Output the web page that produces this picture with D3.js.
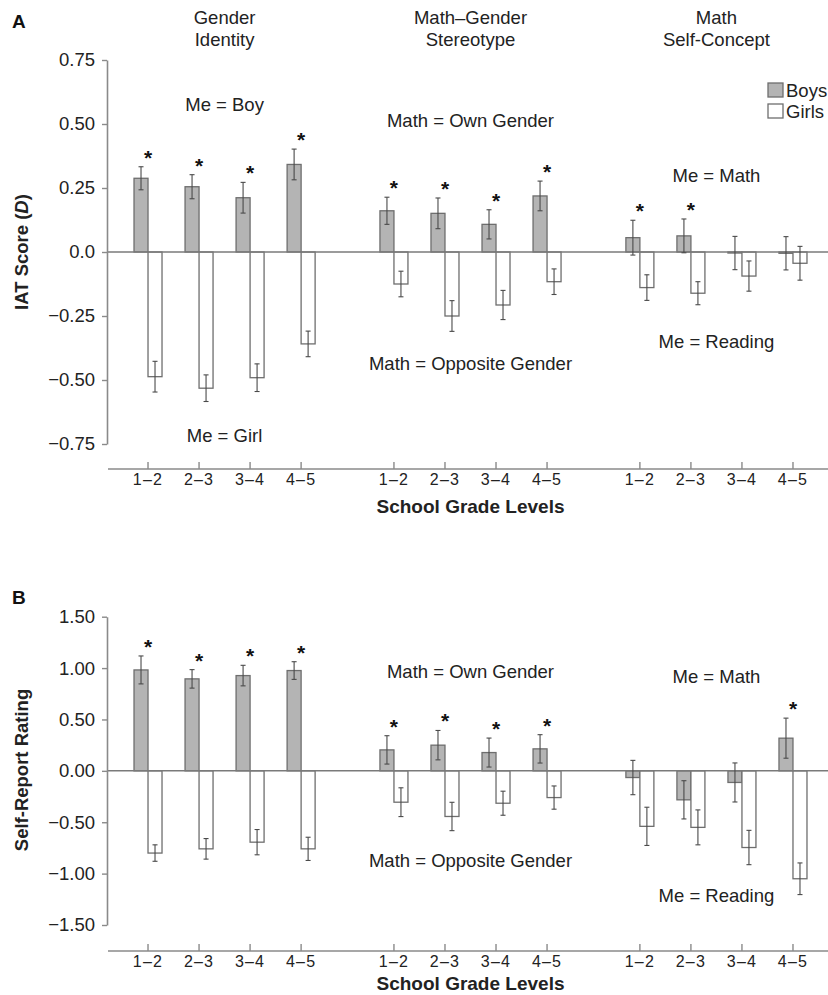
<!DOCTYPE html>
<html>
<head>
<meta charset="utf-8">
<script src="https://cdn.jsdelivr.net/npm/d3@7"></script>
<style>
  body { margin: 0; background: #fff; }
  svg { display: block; font-family: "Liberation Sans", Arial, Helvetica, sans-serif; }
</style>
</head>
<body>
<div id="chart"></div>
<script>
// ---- data ----
const groups = ['Gender Identity', 'Math–Gender Stereotype', 'Math Self-Concept'];
const groupTitles = [['Gender', 'Identity'], ['Math–Gender', 'Stereotype'], ['Math', 'Self-Concept']];
const grades = ['1–2', '2–3', '3–4', '4–5'];

// Panel A: IAT score (D)
const iatBoys     = [[0.288, 0.255, 0.212, 0.342], [0.161, 0.151, 0.108, 0.219], [0.056, 0.063, -0.004, -0.005]];
const iatBoysErr  = [[0.045, 0.047, 0.060, 0.060], [0.053, 0.060, 0.057, 0.058], [0.068, 0.066, 0.065, 0.065]];
const iatGirls    = [[-0.487, -0.532, -0.491, -0.359], [-0.125, -0.250, -0.207, -0.116], [-0.139, -0.161, -0.094, -0.044]];
const iatGirlsErr = [[0.060, 0.052, 0.054, 0.050], [0.050, 0.060, 0.057, 0.050], [0.050, 0.045, 0.059, 0.066]];
const iatStars    = [[1, 1, 1, 1], [1, 1, 1, 1], [1, 1, 0, 0]];
const iatTicks    = [0.75, 0.5, 0.25, 0, -0.25, -0.5, -0.75];

// Panel B: self-report rating
const srBoys      = [[0.982, 0.895, 0.927, 0.976], [0.204, 0.250, 0.178, 0.214], [-0.065, -0.282, -0.113, 0.318]];
const srBoysErr   = [[0.136, 0.090, 0.100, 0.086], [0.138, 0.143, 0.141, 0.138], [0.167, 0.186, 0.190, 0.195]];
const srGirls     = [[-0.800, -0.759, -0.694, -0.759], [-0.305, -0.444, -0.315, -0.260], [-0.540, -0.550, -0.746, -1.050]];
const srGirlsErr  = [[0.080, 0.100, 0.123, 0.113], [0.140, 0.138, 0.117, 0.113], [0.186, 0.170, 0.167, 0.154]];
const srStars     = [[1, 1, 1, 1], [1, 1, 1, 1], [0, 0, 0, 1]];
const srTicks     = [1.5, 1, 0.5, 0, -0.5, -1, -1.5];

const width = 828, height = 995;
const boyFill = '#b4b4b4', barStroke = '#6e6e6e', axisColor = '#8a8a8a', errColor = '#4a4a4a';
const textSize = '18.5px';
const dash = s => s.replace('-', '–');

const svg = d3.select('#chart').append('svg')
  .attr('width', width)
  .attr('height', height);

// shared x scales
const xGroup = d3.scaleBand().domain(groups).range([122.5, 818.5]).paddingInner(0.17).paddingOuter(0);
const xGrade = d3.scaleBand().domain(grades).range([0, xGroup.bandwidth()]);
const tickX = (g, gr) => xGroup(g) + xGrade(gr) + xGrade.bandwidth() / 2;
const barW = 14;

function drawPanel(p) {
  const g = svg.append('g');
  const y = d3.scaleLinear().domain(p.domain).range(p.range);

  // flatten rows
  const rows = [];
  groups.forEach((grp, gi) => grades.forEach((gr, i) => {
    rows.push({ grp, gr, boy: p.boys[gi][i], boyErr: p.boysErr[gi][i],
      girl: p.girls[gi][i], girlErr: p.girlsErr[gi][i], star: p.stars[gi][i] });
  }));

  // bars
  g.selectAll('.boy').data(rows).enter().append('rect')
    .attr('x', d => tickX(d.grp, d.gr) - barW)
    .attr('y', d => y(Math.max(0, d.boy)))
    .attr('width', barW)
    .attr('height', d => Math.abs(y(d.boy) - y(0)))
    .attr('fill', boyFill)
    .attr('stroke', barStroke)
    .attr('stroke-width', 1.3);

  g.selectAll('.girl').data(rows).enter().append('rect')
    .attr('x', d => tickX(d.grp, d.gr))
    .attr('y', d => y(Math.max(0, d.girl)))
    .attr('width', barW)
    .attr('height', d => Math.abs(y(d.girl) - y(0)))
    .attr('fill', '#fff')
    .attr('stroke', barStroke)
    .attr('stroke-width', 1.3);

  // zero line
  g.append('line')
    .attr('x1', 107).attr('x2', width)
    .attr('y1', y(0)).attr('y2', y(0))
    .attr('stroke', '#7a7a7a').attr('stroke-width', 1.5);

  // error bars
  const errs = [];
  rows.forEach(d => {
    errs.push({ x: tickX(d.grp, d.gr) - barW / 2, v: d.boy, e: d.boyErr });
    errs.push({ x: tickX(d.grp, d.gr) + barW / 2, v: d.girl, e: d.girlErr });
  });
  const eb = g.selectAll('.err').data(errs).enter().append('g')
    .attr('stroke', errColor).attr('stroke-width', 1.1);
  eb.append('line')
    .attr('x1', d => d.x).attr('x2', d => d.x)
    .attr('y1', d => y(d.v + d.e)).attr('y2', d => y(d.v - d.e));
  eb.append('line')
    .attr('x1', d => d.x - 2.5).attr('x2', d => d.x + 2.5)
    .attr('y1', d => y(d.v + d.e)).attr('y2', d => y(d.v + d.e));
  eb.append('line')
    .attr('x1', d => d.x - 2.5).attr('x2', d => d.x + 2.5)
    .attr('y1', d => y(d.v - d.e)).attr('y2', d => y(d.v - d.e));

  // significance stars
  g.selectAll('.star').data(rows.filter(d => d.star)).enter().append('text')
    .attr('x', d => tickX(d.grp, d.gr))
    .attr('y', d => y(d.boy + d.boyErr) - 2)
    .attr('text-anchor', 'middle')
    .attr('font-size', '21px')
    .attr('font-weight', 'bold')
    .attr('fill', '#111')
    .text('*');

  // y axis
  const yAxis = g.append('g')
    .attr('transform', 'translate(107,0)')
    .call(d3.axisLeft(y).tickValues(p.ticks).tickSize(5).tickSizeOuter(0).tickPadding(7)
      .tickFormat(p.fmt));
  yAxis.select('.domain').attr('stroke', axisColor).attr('stroke-width', 1.6);
  yAxis.selectAll('.tick line').attr('stroke', axisColor).attr('stroke-width', 1.4);
  yAxis.selectAll('.tick text')
    .attr('font-size', textSize)
    .attr('font-family', '"Liberation Sans", Arial, sans-serif')
    .attr('fill', '#222');

  // x axis
  g.append('line')
    .attr('x1', 108).attr('x2', width)
    .attr('y1', p.xAxisY).attr('y2', p.xAxisY)
    .attr('stroke', axisColor).attr('stroke-width', 1.6);
  g.selectAll('.xtick').data(rows).enter().append('line')
    .attr('x1', d => tickX(d.grp, d.gr)).attr('x2', d => tickX(d.grp, d.gr))
    .attr('y1', p.xAxisY - 7).attr('y2', p.xAxisY)
    .attr('stroke', axisColor).attr('stroke-width', 1.4);
  g.selectAll('.xlab').data(rows).enter().append('text')
    .attr('x', d => tickX(d.grp, d.gr))
    .attr('y', p.xAxisY + 16)
    .attr('text-anchor', 'middle')
    .attr('font-size', '16px')
    .attr('letter-spacing', '1.2px')
    .attr('fill', '#222')
    .text(d => d.gr);

  g.append('text')
    .attr('x', xGroup(groups[1]) + xGroup.bandwidth() / 2)
    .attr('y', p.xTitleY)
    .attr('text-anchor', 'middle')
    .attr('font-size', '19px')
    .attr('font-weight', 'bold')
    .attr('fill', '#222')
    .text('School Grade Levels');

  // y title
  const yt = g.append('text')
    .attr('transform', `translate(28,${p.yTitleY}) rotate(-90)`)
    .attr('text-anchor', 'middle')
    .attr('font-size', '18.5px')
    .attr('font-weight', 'bold')
    .attr('fill', '#222');
  p.yTitle.forEach(part => {
    yt.append('tspan').attr('font-style', part.italic ? 'italic' : 'normal').text(part.t);
  });

  // panel letter
  g.append('text')
    .attr('x', 12).attr('y', p.letterY)
    .attr('font-size', '19px').attr('font-weight', 'bold').attr('fill', '#111')
    .text(p.letter);

  // in-plot annotations
  p.notes.forEach(n => {
    g.append('text')
      .attr('x', xGroup(groups[n.g]) + xGroup.bandwidth() / 2)
      .attr('y', n.y)
      .attr('text-anchor', 'middle')
      .attr('font-size', textSize)
      .attr('fill', '#222')
      .text(n.t);
  });
  return g;
}

const fmtA = d => d === 0 ? '0.0' : dash(d3.format('.2f')(d));
const fmtB = d => dash(d3.format('.2f')(d));

drawPanel({
  letter: 'A', letterY: 28,
  domain: [-0.75, 0.75], range: [444, 60], ticks: iatTicks, fmt: fmtA,
  boys: iatBoys, boysErr: iatBoysErr, girls: iatGirls, girlsErr: iatGirlsErr, stars: iatStars,
  xAxisY: 469, xTitleY: 513, yTitleY: 252,
  yTitle: [{ t: 'IAT Score (' }, { t: 'D', italic: true }, { t: ')' }],
  notes: [
    { g: 0, y: 111, t: 'Me = Boy' }, { g: 0, y: 442, t: 'Me = Girl' },
    { g: 1, y: 127, t: 'Math = Own Gender' }, { g: 1, y: 370, t: 'Math = Opposite Gender' },
    { g: 2, y: 182, t: 'Me = Math' }, { g: 2, y: 348, t: 'Me = Reading' }
  ]
});

drawPanel({
  letter: 'B', letterY: 604,
  domain: [-1.5, 1.5], range: [925, 616.7], ticks: srTicks, fmt: fmtB,
  boys: srBoys, boysErr: srBoysErr, girls: srGirls, girlsErr: srGirlsErr, stars: srStars,
  xAxisY: 951, xTitleY: 990, yTitleY: 770,
  yTitle: [{ t: 'Self-Report Rating' }],
  notes: [
    { g: 1, y: 678, t: 'Math = Own Gender' }, { g: 1, y: 867, t: 'Math = Opposite Gender' },
    { g: 2, y: 683, t: 'Me = Math' }, { g: 2, y: 902, t: 'Me = Reading' }
  ]
});

// group titles (panel A only)
groupTitles.forEach((lines, i) => {
  const t = svg.append('text')
    .attr('text-anchor', 'middle')
    .attr('font-size', textSize)
    .attr('fill', '#222');
  lines.forEach((l, j) => {
    t.append('tspan')
      .attr('x', xGroup(groups[i]) + xGroup.bandwidth() / 2)
      .attr('y', 24 + j * 22)
      .text(l);
  });
});

// legend
const legend = svg.append('g').attr('transform', 'translate(768,83)');
[{ t: 'Boys', fill: boyFill }, { t: 'Girls', fill: '#fff' }].forEach((d, i) => {
  legend.append('rect')
    .attr('x', 0).attr('y', i * 21)
    .attr('width', 15).attr('height', 14)
    .attr('fill', d.fill).attr('stroke', barStroke).attr('stroke-width', 1.3);
  legend.append('text')
    .attr('x', 18).attr('y', i * 21 + 13.5)
    .attr('font-size', textSize).attr('fill', '#222')
    .text(d.t);
});
</script>
</body>
</html>
